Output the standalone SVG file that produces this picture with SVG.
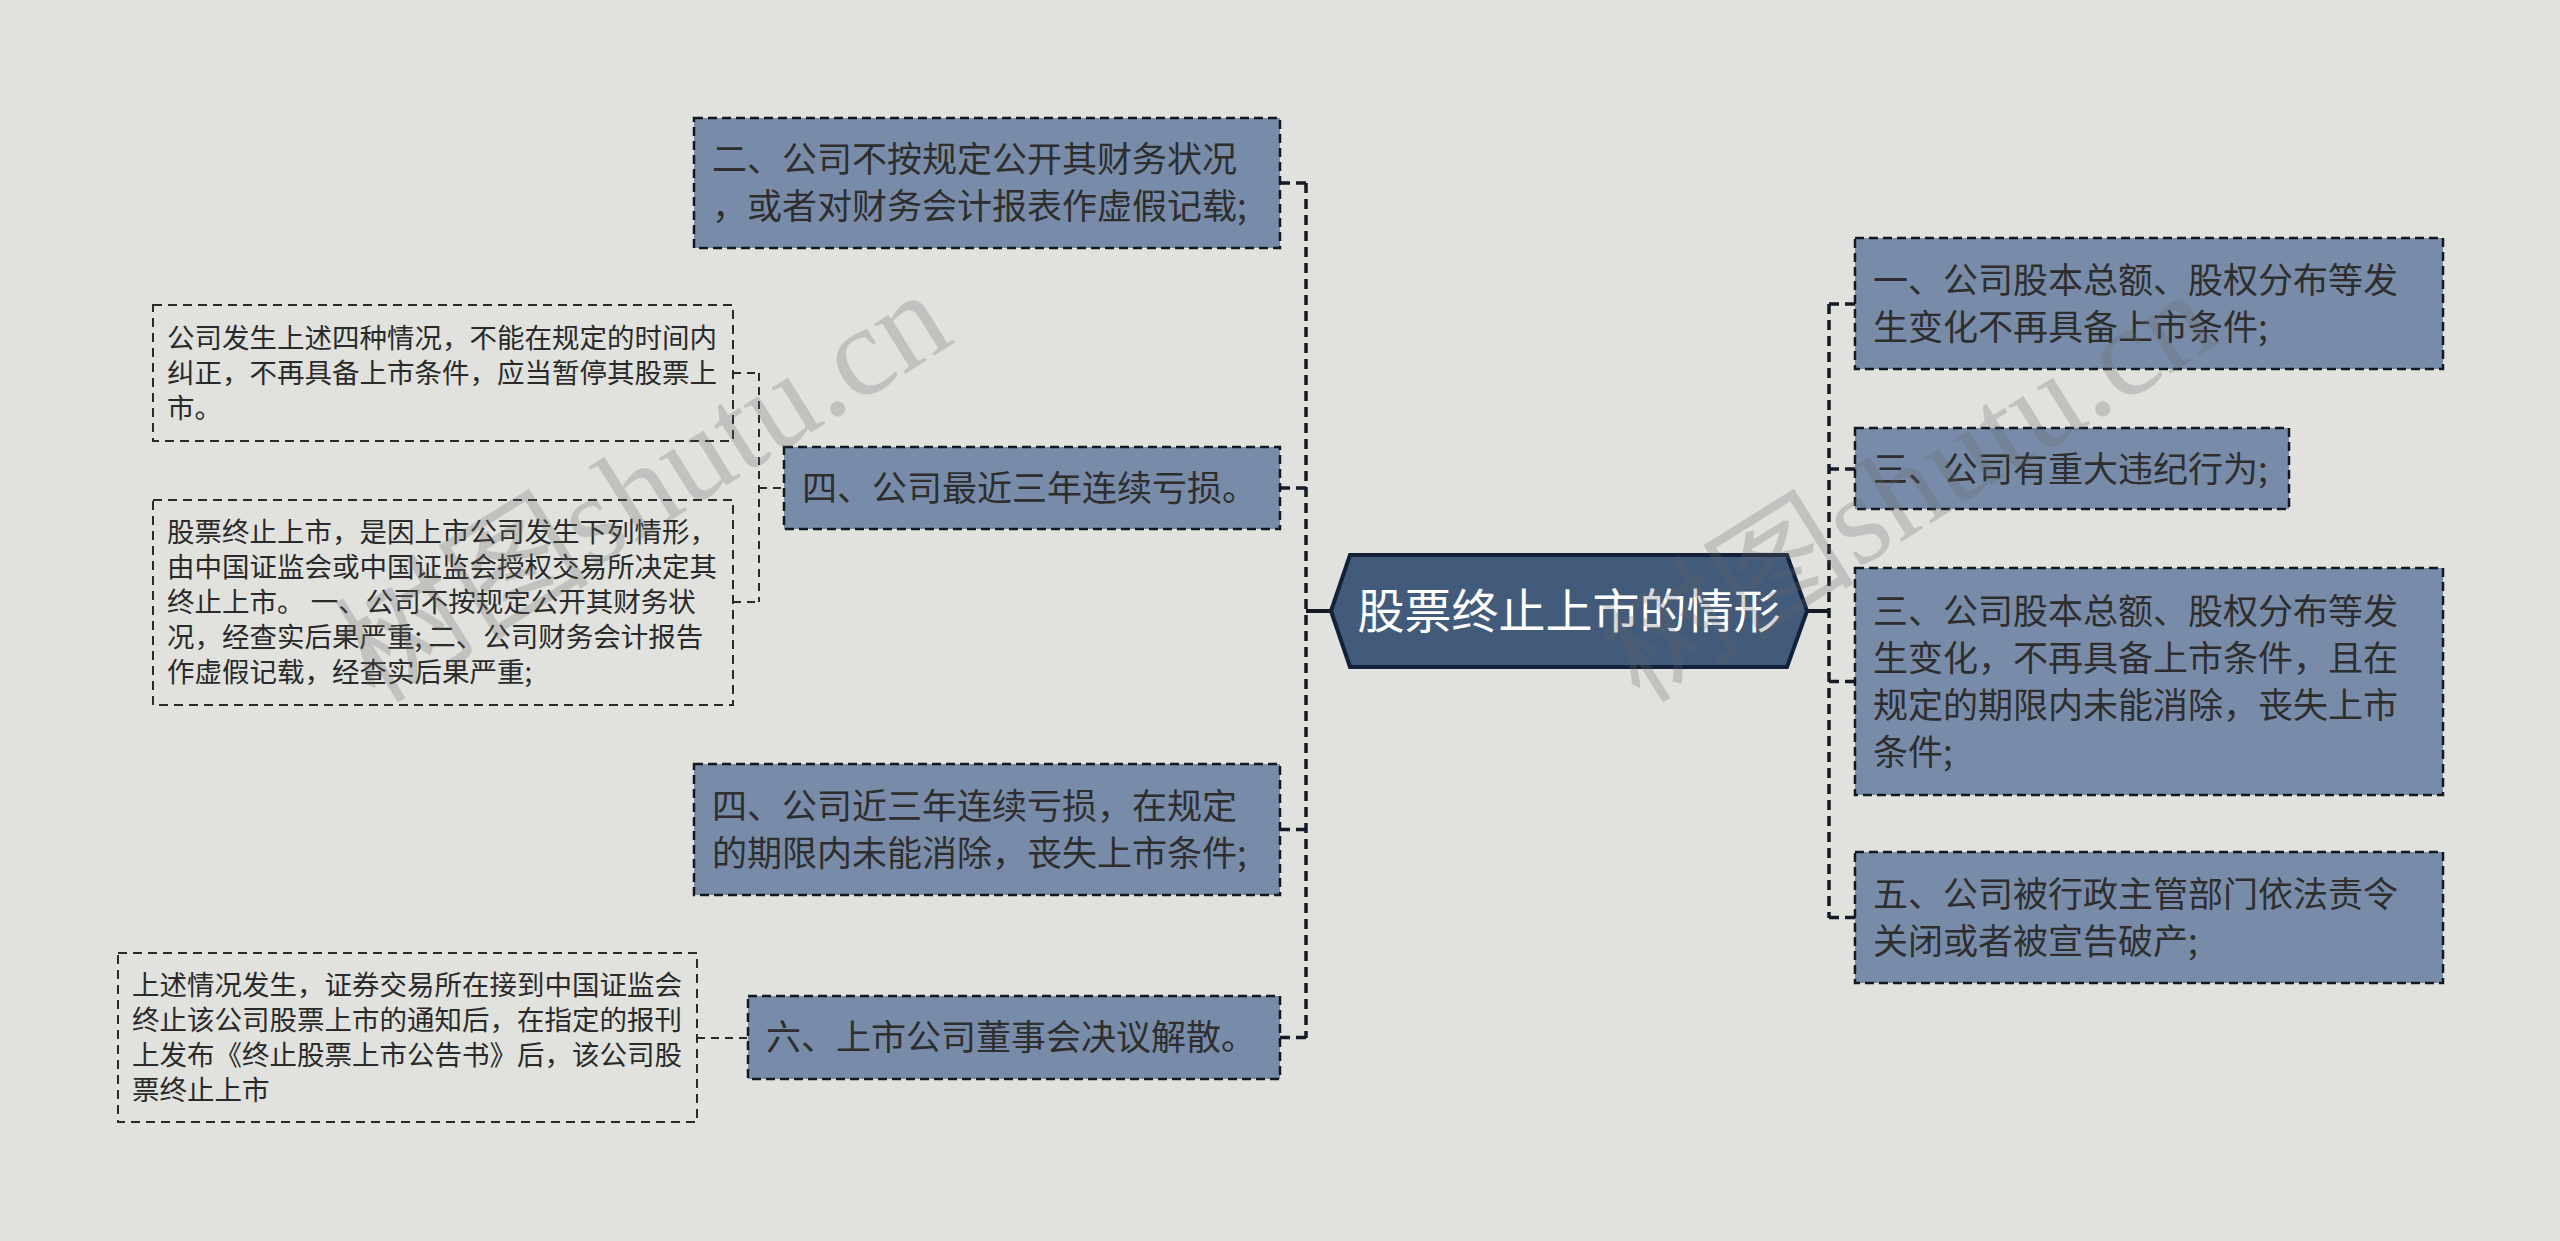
<svg xmlns="http://www.w3.org/2000/svg" width="2560" height="1241" viewBox="0 0 2560 1241">
<style>
.bg{fill:#e1e2de}
.box{fill:#788ca9;stroke:#111820;stroke-width:2.5;stroke-dasharray:9 5}
.note{fill:none;stroke:#2a2a2a;stroke-width:2;stroke-dasharray:9 6}
.t{font-family:"Noto Sans CJK SC","Liberation Sans",sans-serif;font-size:35px;fill:#2e2e2e}
.n{font-family:"Noto Sans CJK SC","Liberation Sans",sans-serif;font-size:27.5px;fill:#2a2a2a}
.c{font-family:"Noto Sans CJK SC","Liberation Sans",sans-serif;font-size:47px;fill:#ffffff}
.ln{fill:none;stroke:#151b26;stroke-width:3.5;stroke-dasharray:10 6}
.ln2{fill:none;stroke:#2a2a2a;stroke-width:2;stroke-dasharray:8 6}
.solid{fill:none;stroke:#151b26;stroke-width:4}
.wm{font-family:"Liberation Serif","Noto Sans CJK SC",serif;font-size:128px;fill:#666;opacity:0.25}
</style>
<rect class="bg" x="0" y="0" width="2560" height="1241"/>

<g id="connectors">
  <path class="solid" d="M1331 611 H1306"/>
  <path class="ln" d="M1306 183 V1038"/>
  <path class="ln" d="M1280 183 H1306"/>
  <path class="ln" d="M1280 488 H1306"/>
  <path class="ln" d="M1280 829.5 H1306"/>
  <path class="ln" d="M1280 1037.5 H1306"/>
  <path class="ln2" d="M759 373 V602"/>
  <path class="ln2" d="M733 373 H759"/>
  <path class="ln2" d="M733 602 H759"/>
  <path class="ln2" d="M759 488 H784"/>
  <path class="ln2" d="M697 1038 H748"/>
  <path class="solid" d="M1807 611 H1829"/>
  <path class="ln" d="M1829 304 V918"/>
  <path class="ln" d="M1829 304 H1855"/>
  <path class="ln" d="M1829 469 H1855"/>
  <path class="ln" d="M1829 681.5 H1855"/>
  <path class="ln" d="M1829 917.5 H1855"/>
</g>

<g id="center">
  <polygon points="1331,611 1350,555 1787,555 1807,611 1787,667 1350,667" fill="#435b7b" stroke="#14213a" stroke-width="4"/>
  <text class="c" x="1569" y="628" text-anchor="middle">股票终止上市的情形</text>
</g>

<g id="nodeA">
  <rect class="box" x="694" y="118" width="586" height="130"/>
  <text class="t" x="712" y="172">二、公司不按规定公开其财务状况</text>
  <text class="t" x="712" y="219">，或者对财务会计报表作虚假记载;</text>
</g>
<g id="nodeB">
  <rect class="box" x="784" y="447" width="496" height="82"/>
  <text class="t" x="802" y="501">四、公司最近三年连续亏损。</text>
</g>
<g id="nodeC">
  <rect class="box" x="694" y="764" width="586" height="131"/>
  <text class="t" x="712" y="819">四、公司近三年连续亏损，在规定</text>
  <text class="t" x="712" y="866">的期限内未能消除，丧失上市条件;</text>
</g>
<g id="nodeD">
  <rect class="box" x="748" y="996" width="532" height="83"/>
  <text class="t" x="766" y="1050">六、上市公司董事会决议解散。</text>
</g>

<g id="note1">
  <rect class="note" x="153" y="305" width="580" height="136"/>
  <text class="n" x="167" y="348">公司发生上述四种情况，不能在规定的时间内</text>
  <text class="n" x="167" y="383">纠正，不再具备上市条件，应当暂停其股票上</text>
  <text class="n" x="167" y="418">市。</text>
</g>
<g id="note2">
  <rect class="note" x="153" y="500" width="580" height="205"/>
  <text class="n" x="167" y="542">股票终止上市，是因上市公司发生下列情形，</text>
  <text class="n" x="167" y="577">由中国证监会或中国证监会授权交易所决定其</text>
  <text class="n" x="167" y="612">终止上市。 一、公司不按规定公开其财务状</text>
  <text class="n" x="167" y="647">况，经查实后果严重; 二、公司财务会计报告</text>
  <text class="n" x="167" y="682">作虚假记载，经查实后果严重;</text>
</g>
<g id="note3">
  <rect class="note" x="118" y="953" width="579" height="169"/>
  <text class="n" x="132" y="995">上述情况发生，证券交易所在接到中国证监会</text>
  <text class="n" x="132" y="1030">终止该公司股票上市的通知后，在指定的报刊</text>
  <text class="n" x="132" y="1065">上发布《终止股票上市公告书》后，该公司股</text>
  <text class="n" x="132" y="1100">票终止上市</text>
</g>

<g id="nodeR1">
  <rect class="box" x="1855" y="238" width="588" height="131"/>
  <text class="t" x="1873" y="293">一、公司股本总额、股权分布等发</text>
  <text class="t" x="1873" y="340">生变化不再具备上市条件;</text>
</g>
<g id="nodeR2">
  <rect class="box" x="1855" y="428" width="434" height="81"/>
  <text class="t" x="1873" y="482">三、公司有重大违纪行为;</text>
</g>
<g id="nodeR3">
  <rect class="box" x="1855" y="568" width="588" height="227"/>
  <text class="t" x="1873" y="624">三、公司股本总额、股权分布等发</text>
  <text class="t" x="1873" y="671">生变化，不再具备上市条件，且在</text>
  <text class="t" x="1873" y="718">规定的期限内未能消除，丧失上市</text>
  <text class="t" x="1873" y="765">条件;</text>
</g>
<g id="nodeR4">
  <rect class="box" x="1855" y="852" width="588" height="131"/>
  <text class="t" x="1873" y="907">五、公司被行政主管部门依法责令</text>
  <text class="t" x="1873" y="954">关闭或者被宣告破产;</text>
</g>

<g id="watermarks">
  <text class="wm" x="375" y="705" transform="rotate(-32 375 705)">树图shutu.cn</text>
  <text class="wm" x="1640" y="705" transform="rotate(-32 1640 705)">树图shutu.cn</text>
</g>
</svg>
